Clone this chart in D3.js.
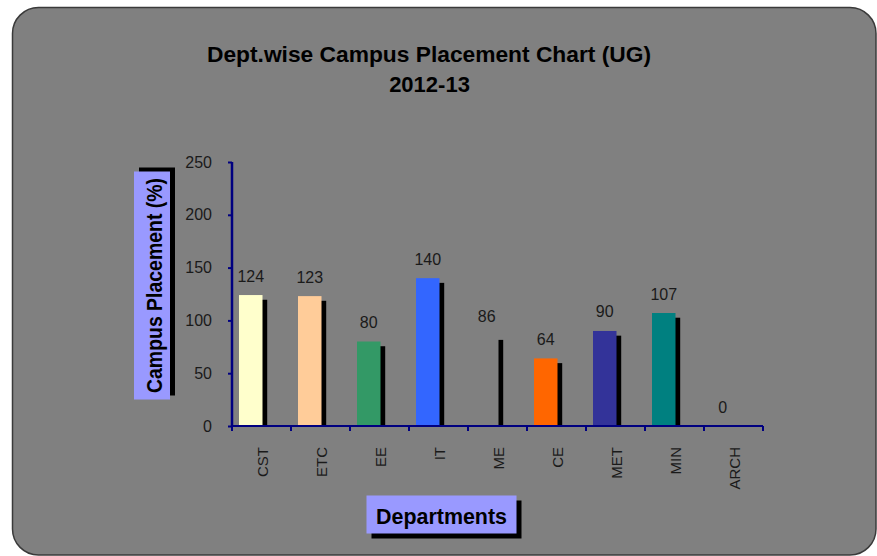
<!DOCTYPE html>
<html lang="en">
<head>
    <meta charset="UTF-8">
    <title>Dept.wise Campus Placement Chart (UG) 2012-13</title>
    <script src="https://d3js.org/d3.v7.min.js"></script>
    <style>
        html, body { margin: 0; padding: 0; background: #fff; }
        svg { display: block; }
        text { font-family: "Liberation Sans", Arial, sans-serif; }
    </style>
</head>
<body>
    <svg width="877" height="556"></svg>

    <script>
        // Data
        const departments = ['CST', 'ETC', 'EE', 'IT', 'ME', 'CE', 'MET', 'MIN', 'ARCH'];
        const placement = [124, 123, 80, 140, 86, 64, 90, 107, 0];
        const barColors = ['#FFFFCC', '#FFCC99', '#339966', '#3366FF', '#808080', '#FF6600', '#333399', '#008080', '#808080'];
        const yTicks = [0, 50, 100, 150, 200, 250];

        const data = departments.map((d, i) => ({dept: d, value: placement[i], color: barColors[i]}));

        const svg = d3.select("svg");

        // chart area
        svg.append("rect")
            .attr("x", 12.5).attr("y", 7.5)
            .attr("width", 863.5).attr("height", 547.5)
            .attr("rx", 26).attr("ry", 26)
            .attr("fill", "#808080")
            .attr("stroke", "#3a3a3a")
            .attr("stroke-width", 1.5);

        // title
        svg.append("text")
            .attr("x", 429).attr("y", 62)
            .attr("text-anchor", "middle")
            .attr("font-size", 22).attr("font-weight", "bold")
            .attr("textLength", 444).attr("lengthAdjust", "spacingAndGlyphs")
            .text("Dept.wise Campus Placement Chart (UG)");
        svg.append("text")
            .attr("x", 429.5).attr("y", 92)
            .attr("text-anchor", "middle")
            .attr("font-size", 22).attr("font-weight", "bold")
            .text("2012-13");

        const x = d3.scaleBand()
            .domain(departments)
            .range([232, 763])
            .paddingInner(0).paddingOuter(0);

        const y = d3.scaleLinear()
            .domain([0, 250])
            .range([426, 162]);

        const barOffset = 7, barWidth = 23.5, shadow = 4.7;

        // bar shadows
        svg.selectAll(".shadow")
            .data(data.filter(d => d.value > 0))
            .enter().append("rect")
            .attr("class", "shadow")
            .attr("x", d => x(d.dept) + barOffset + shadow)
            .attr("y", d => y(d.value) + shadow)
            .attr("width", barWidth)
            .attr("height", d => y(0) - y(d.value) - shadow)
            .attr("fill", "#000");

        // bars
        svg.selectAll(".bar")
            .data(data.filter(d => d.value > 0))
            .enter().append("rect")
            .attr("class", "bar")
            .attr("x", d => x(d.dept) + barOffset)
            .attr("y", d => y(d.value))
            .attr("width", barWidth)
            .attr("height", d => y(0) - y(d.value))
            .attr("fill", d => d.color);

        // value labels
        svg.selectAll(".value")
            .data(data)
            .enter().append("text")
            .attr("class", "value")
            .attr("x", d => x(d.dept) + barOffset + barWidth / 2)
            .attr("y", d => y(d.value) - 13.5)
            .attr("text-anchor", "middle")
            .attr("font-size", 16)
            .attr("fill", "#1a1a1a")
            .text(d => d.value);

        // y axis
        const yAxis = svg.append("g")
            .attr("transform", "translate(232,0)")
            .call(d3.axisLeft(y).tickValues(yTicks).tickSize(4).tickPadding(16));
        yAxis.select(".domain").attr("stroke", "#000080").attr("stroke-width", 2.5)
            .attr("d", "M0," + y(250) + "V" + y(0));
        yAxis.selectAll(".tick line").attr("stroke", "#000080").attr("stroke-width", 2);
        yAxis.selectAll(".tick text")
            .attr("font-size", 16).attr("fill", "#1a1a1a")
            .style("font-family", "'Liberation Sans', Arial, sans-serif");

        // x axis
        const xAxis = svg.append("g")
            .attr("transform", "translate(0,426)")
            .call(d3.axisBottom(x).tickSize(0).tickPadding(0));
        xAxis.select(".domain").attr("stroke", "#000080").attr("stroke-width", 2)
            .attr("d", "M232,0H763");
        xAxis.selectAll(".tick text")
            .attr("font-size", 15).attr("fill", "#1a1a1a")
            .style("font-family", "'Liberation Sans', Arial, sans-serif")
            .attr("transform", "rotate(-90)")
            .attr("text-anchor", "end")
            .attr("x", -21)
            .attr("y", 1.5)
            .attr("dy", "0.35em");
        // category boundary ticks
        xAxis.selectAll(".sep")
            .data(departments.concat(["end"]))
            .enter().append("line")
            .attr("x1", (d, i) => i < departments.length ? x(d) : x.range()[1])
            .attr("x2", (d, i) => i < departments.length ? x(d) : x.range()[1])
            .attr("y1", 0).attr("y2", 5)
            .attr("stroke", "#000080").attr("stroke-width", 2);

        // axis title boxes
        const yTitle = svg.append("g").attr("transform", "translate(152,285.5) rotate(-90)");
        yTitle.append("rect")
            .attr("x", -114 + 4).attr("y", -18 + 5)
            .attr("width", 228).attr("height", 36)
            .attr("fill", "#000");
        yTitle.append("rect")
            .attr("x", -114).attr("y", -18)
            .attr("width", 228).attr("height", 36)
            .attr("fill", "#9999FF");
        yTitle.append("text")
            .attr("x", 0).attr("y", 10)
            .attr("text-anchor", "middle")
            .attr("font-size", 22).attr("font-weight", "bold")
            .attr("textLength", 215).attr("lengthAdjust", "spacingAndGlyphs")
            .text("Campus Placement (%)");

        const xTitle = svg.append("g").attr("transform", "translate(441.5,514.5)");
        xTitle.append("rect")
            .attr("x", -75 + 5).attr("y", -19 + 5)
            .attr("width", 150).attr("height", 38)
            .attr("fill", "#000");
        xTitle.append("rect")
            .attr("x", -75).attr("y", -19)
            .attr("width", 150).attr("height", 38)
            .attr("fill", "#9999FF");
        xTitle.append("text")
            .attr("x", 0).attr("y", 9)
            .attr("text-anchor", "middle")
            .attr("font-size", 22).attr("font-weight", "bold")
            .attr("textLength", 131).attr("lengthAdjust", "spacingAndGlyphs")
            .text("Departments");
    </script>
</body>
</html>
